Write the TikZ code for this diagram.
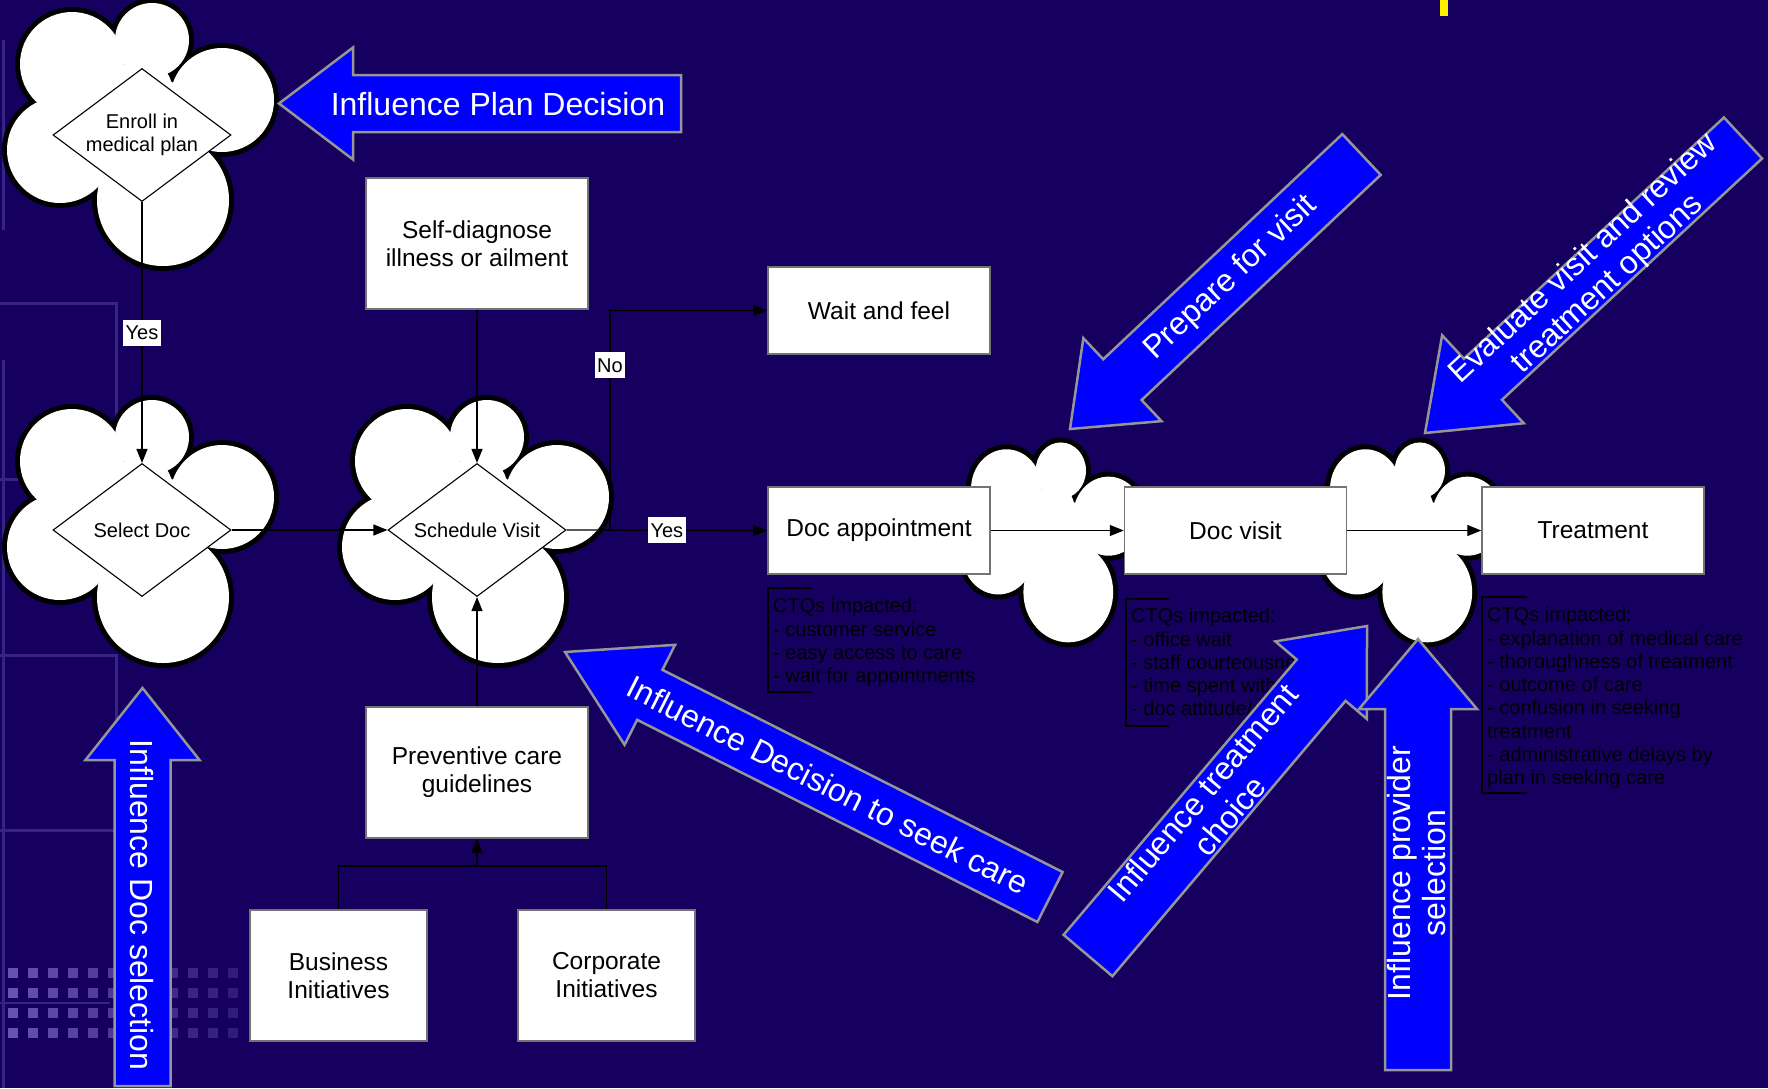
\documentclass[tikz,border=0pt]{standalone}
\usepackage{fontspec}
\setmainfont{Liberation Sans}
\usetikzlibrary{shapes.geometric, arrows.meta, calc}
\definecolor{slideNavy}{RGB}{21,0,96}
\definecolor{gridLilac}{RGB}{52,36,132}
\definecolor{dotLilac}{RGB}{128,112,200}
\definecolor{hintBlue}{RGB}{0,0,255}
\definecolor{hintEdge}{RGB}{150,150,150}

% lobes of a cloud: x/y/radius, in px round its middle
\newcommand{\puffLobes}{10/-94/37, -70/-70/52, 80/-34/52, 21/66/66, -82/16/53, 0/0/60, 0/-45/30}

\tikzset{
  puff/.pic={
    \foreach \cx/\cy/\r in \puffLobes
      \draw[black, line width=10pt] (\cx,\cy) circle[radius=\r];
    \foreach \cx/\cy/\r in \puffLobes
      \fill[white] (\cx,\cy) circle[radius=\r];
  }
}

% block arrow: tail, tip, shaft half width, head half width, head length
\newcommand{\hintarrow}[5]{%
  \coordinate (hb) at ($(#2)!#5!(#1)$);
  \filldraw[infl] ($(#1)!#3!90:(#2)$) -- ($(hb)!#3!90:(#2)$) -- ($(hb)!#4!90:(#2)$) -- (#2)
    -- ($(hb)!#4!-90:(#2)$) -- ($(hb)!#3!-90:(#2)$) -- ($(#1)!#3!-90:(#2)$) -- cycle;}

\begin{document}
\begin{tikzpicture}[
    x=1pt, y=-1pt,
    stepbox/.style={rectangle, draw=black!55, line width=1.5pt, fill=white, minimum width=222pt, minimum height=87pt, inner sep=0pt, align=center, font=\fontsize{24.5}{28}\selectfont},
    choice/.style={diamond, aspect=1.34, draw=black, line width=1.1pt, fill=white, inner sep=0pt, minimum width=178pt, minimum height=133pt, align=center, font=\fontsize{20}{23}\selectfont},
    flow/.style={-{Triangle[length=14pt, width=11pt]}, line width=1.3pt, black},
    tie/.style={line width=1.3pt, black},
    tag/.style={fill=white, inner sep=2.5pt, minimum height=26pt, font=\fontsize{20}{23}\selectfont},
    ctq/.style={anchor=north west, inner sep=0pt, align=left, text=black, font=\fontsize{20}{23.3}\selectfont},
    bracket/.style={line width=1.3pt, black},
    infl/.style={fill=hintBlue, draw=hintEdge, line width=2.5pt},
    infltext/.style={text=white, align=center, inner sep=0pt, font=\fontsize{32}{35}\selectfont}
]

% Slide background
\useasboundingbox (0,0) rectangle (1768,1088);
\fill[slideNavy] (0,0) rectangle (1768,1088);
\draw[gridLilac, line width=3pt] (0,303) -- (116,303) -- (116,577);
\draw[gridLilac, line width=3pt] (0,479) -- (30,479);
\draw[gridLilac, line width=3pt] (0,655) -- (116,655) -- (116,830) -- (0,830);
\draw[gridLilac, line width=3pt] (3,40) -- (3,230);
\draw[gridLilac, line width=3pt] (3,360) -- (3,1088);
\draw[gridLilac, line width=2pt] (0,1003) -- (110,1003);
\foreach \i [evaluate=\i as \op using 0.75-0.045*\i] in {0,...,11}
  \foreach \j in {0,...,3}
    \fill[dotLilac, opacity=\op] ({8+20*\i},{968+20*\j}) rectangle ++(10,10);
\fill[yellow] (1440,0) rectangle (1448,16);

% Clouds
\pic at (142,134) {puff};
\pic at (142,531) {puff};
\pic at (477,531) {puff};
\pic[xscale=0.68, yscale=0.76] at (1054,542) {puff};
\pic[xscale=0.68, yscale=0.76] at (1413,542) {puff};

% Decisions
\node[choice] (enroll) at (142,135) {Enroll in\\medical plan};
\node[choice] (seldoc) at (142,530) {Select Doc};
\node[choice] (schv) at (477,530) {Schedule Visit};

% Steps
\node[stepbox, minimum height=131pt] (selfdx) at (477,243.5) {Self-diagnose\\illness or ailment};
\node[stepbox] (wait) at (879,310.5) {Wait and feel};
\node[stepbox] (docapp) at (879,530.5) {Doc appointment};
\node[stepbox] (docvisit) at (1235.5,530.5) {Doc visit};
\node[stepbox] (treat) at (1593,530.5) {Treatment};
\node[stepbox, minimum height=131pt] (prev) at (477,772.5) {Preventive care\\guidelines};
\node[stepbox, minimum width=177pt, minimum height=131pt] (bus) at (338.5,975.5) {Business\\Initiatives};
\node[stepbox, minimum width=177pt, minimum height=131pt] (corp) at (606.5,975.5) {Corporate\\Initiatives};

% Connectors
\coordinate (split) at (610,530);
\coordinate (join) at (477,866);
\draw[flow] (enroll.south) -- (seldoc.north) node[tag, pos=0.5] {Yes};
\draw[flow] (seldoc.east) -- (schv.west);
\draw[flow] (selfdx.south) -- (schv.north);
\draw[flow] (prev.north) -- (schv.south);
\draw[flow] (schv.east) -- (docapp.west) node[tag, pos=0.5] {Yes};
\draw[flow] (split) |- (wait.west) node[tag, pos=0.375] {No};
\draw[flow] (docapp.east) -- (docvisit.west);
\draw[flow] (docvisit.east) -- (treat.west);
\draw[tie] (bus.north) |- (join);
\draw[tie] (corp.north) |- (join);
\draw[flow] (join) -- (prev.south);

% CTQ notes
\draw[bracket] (812,588) -- (768,588) -- (768,692) -- (812,692);
\node[ctq] (ctqapp) at (773,598) {CTQs impacted:\\- customer service\\- easy access to care\\- wait for appointments};
\draw[bracket] (1169,599) -- (1126,599) -- (1126,726) -- (1169,726);
\node[ctq] (ctqvisit) at (1131,608) {CTQs impacted:\\- office wait\\- staff courteousness\\- time spent with doc\\- doc attitude/care};
\draw[bracket] (1527,597) -- (1482,597) -- (1482,793) -- (1527,793);
\node[ctq] (ctqtreat) at (1487,607) {CTQs impacted:\\- explanation of medical care\\- thoroughness of treatment\\- outcome of care\\- confusion in seeking\\treatment\\- administrative delays by\\plan in seeking care};

% Influence arrows
\coordinate (planTail) at (681,103.5);
\coordinate (planTip) at (279,103.5);
\hintarrow{planTail}{planTip}{28.5pt}{56pt}{74pt}
\node[infltext] (planText) at (498,104) {Influence Plan Decision};

\coordinate (docselTail) at (142.5,1086);
\coordinate (docselTip) at (142.5,688);
\hintarrow{docselTail}{docselTip}{28pt}{57pt}{72pt}
\node[infltext, rotate=-90] (docselText) at (142,905) {Influence Doc selection};

\coordinate (seekTail) at (1050,897);
\coordinate (seekTip) at (565,652);
\hintarrow{seekTail}{seekTip}{28pt}{56pt}{95pt}
\node[infltext, rotate=-26.8] (seekText) at (828,785) {Influence Decision to seek care};

\coordinate (prepTail) at (1361.5,154.5);
\coordinate (prepTip) at (1070,429);
\hintarrow{prepTail}{prepTip}{28pt}{57pt}{72pt}
\node[infltext, rotate=43.3] (prepText) at (1231,278) {Prepare for visit};

\coordinate (evalTail) at (1743,138);
\coordinate (evalTip) at (1425,433);
\hintarrow{evalTail}{evalTip}{28pt}{60pt}{79pt}
\node[infltext, rotate=42.8] (evalText) at (1596,272) {Evaluate visit and review\\treatment options};

\coordinate (choiceTail) at (1088,955.5);
\coordinate (choiceTip) at (1367,626);
\hintarrow{choiceTail}{choiceTip}{32pt}{60pt}{71pt}
\node[infltext, rotate=49.7] (choiceText) at (1216,804) {Influence treatment\\choice};

\coordinate (provTail) at (1418,1070);
\coordinate (provTip) at (1418,639);
\hintarrow{provTail}{provTip}{33pt}{59pt}{70pt}
\node[infltext, rotate=90] (provText) at (1417,873) {Influence provider\\selection};

\end{tikzpicture}
\end{document}
